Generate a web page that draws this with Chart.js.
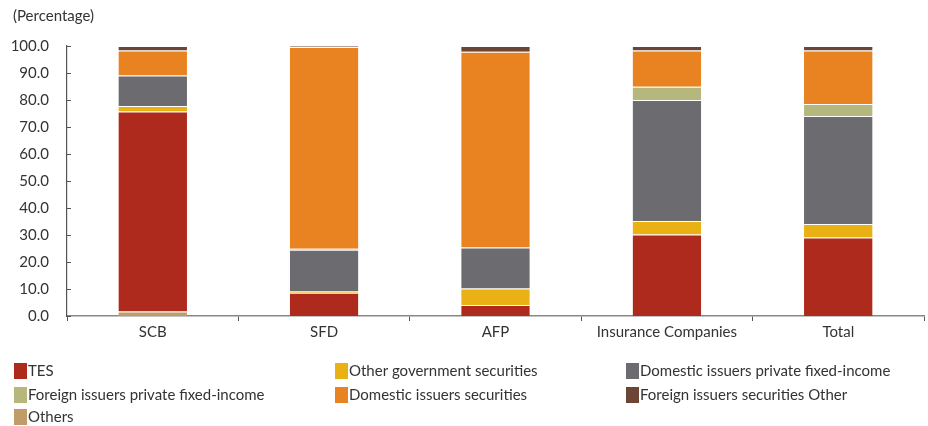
<!DOCTYPE html>
<html><head><meta charset="utf-8">
<script src="https://cdn.jsdelivr.net/npm/chart.js@4/dist/chart.umd.min.js"></script>
<style>html,body{margin:0;padding:0;background:#fff}#wrap{width:928px;height:426px;position:relative}</style>
</head><body><div id="wrap"><canvas id="c" width="928" height="426"></canvas></div>
<script>
const categories = ["SCB", "SFD", "AFP", "Insurance Companies", "Total"];
const tes = [74.0, 8.6, 4.1, 30.2, 29.1];
const otherGov = [2.1, 0.5, 6.1, 5.0, 5.0];
const domPrivate = [11.3, 15.4, 15.2, 44.8, 40.0];
const forPrivate = [0.0, 0.4, 0.0, 4.9, 4.4];
const domSecurities = [9.2, 74.7, 72.5, 13.4, 19.8];
const forSecOther = [1.7, 0.4, 2.1, 1.7, 1.7];
const others = [1.7, 0.0, 0.0, 0.0, 0.0];
const seriesNames = ["TES", "Other government securities", "Domestic issuers private fixed-income",
  "Foreign issuers private fixed-income", "Domestic issuers securities", "Foreign issuers securities Other", "Others"];
const yTicks = [0,10,20,30,40,50,60,70,80,90,100];

const colors = ["#AE2A1C", "#E9B113", "#6C6C70", "#B5B77D", "#E98322", "#6B4536", "#BF9C68"];
const stackOrder = [6, 0, 1, 2, 3, 4, 5]; // bottom to top
const values = [tes, otherGov, domPrivate, forPrivate, domSecurities, forSecOther, others];

const datasets = stackOrder.map(i => ({
  label: seriesNames[i], data: values[i], backgroundColor: colors[i],
  borderColor: "rgba(255,255,255,0.2)", borderWidth: {top: 1, bottom: 0, left: 0, right: 0},
  barPercentage: 0.4, categoryPercentage: 1.0
}));

const FONT = "Lato";
const textColor = "#333333";

const extras = {
  id: "extras",
  afterDraw(chart) {
    const ctx = chart.ctx;
    ctx.save();
    // inward y tick marks
    const ys = chart.scales.y, left = chart.chartArea.left;
    ctx.strokeStyle = "#555"; ctx.lineWidth = 1;
    yTicks.forEach(v => {
      const py = Math.round(ys.getPixelForValue(v)) + 0.5;
      ctx.beginPath(); ctx.moveTo(left, py); ctx.lineTo(left + 4, py); ctx.stroke();
    });
    ctx.fillStyle = textColor;
    ctx.font = "15px " + FONT;
    ctx.textBaseline = "middle";
    ctx.textAlign = "left";
    ctx.fillText("(Percentage)", 13, 16);
    const colsX = [14, 335, 626];
    const rowsY = [371, 395, 417];
    seriesNames.forEach((name, i) => {
      const col = i % 3, row = Math.floor(i / 3);
      const x = colsX[col], y = rowsY[row];
      ctx.fillStyle = colors[i];
      ctx.fillRect(x, y - 8, 13, 16);
      ctx.fillStyle = textColor;
      ctx.fillText(name, x + 14, y);
    });
    ctx.restore();
  }
};

new Chart(document.getElementById("c"), {
  type: "bar",
  data: { labels: categories, datasets },
  options: {
    responsive: false, animation: false,
    layout: { padding: { left: 0, top: 46, right: 4, bottom: 80 } },
    plugins: { legend: { display: false }, tooltip: { enabled: false } },
    scales: {
      x: {
        stacked: true,
        grid: { display: true, drawOnChartArea: false, offset: true, color: "#555", tickLength: 5 },
        border: { color: "#888", width: 1.5 },
        ticks: { color: textColor, font: { family: FONT, size: 15 }, padding: 2 },
        afterFit(s) { s.height = 30; }
      },
      y: {
        stacked: true, min: 0, max: 100,
        afterBuildTicks(s) { s.ticks = yTicks.map(v => ({ value: v })); },
        grid: { display: false },
        border: { display: true, color: "#555", width: 1.2 },
        ticks: { color: textColor, font: { family: FONT, size: 15 }, padding: 10, callback: v => v.toFixed(1) },
        afterFit(s) { s.width = 67; }
      }
    }
  },
  plugins: [extras]
});
</script></body></html>
